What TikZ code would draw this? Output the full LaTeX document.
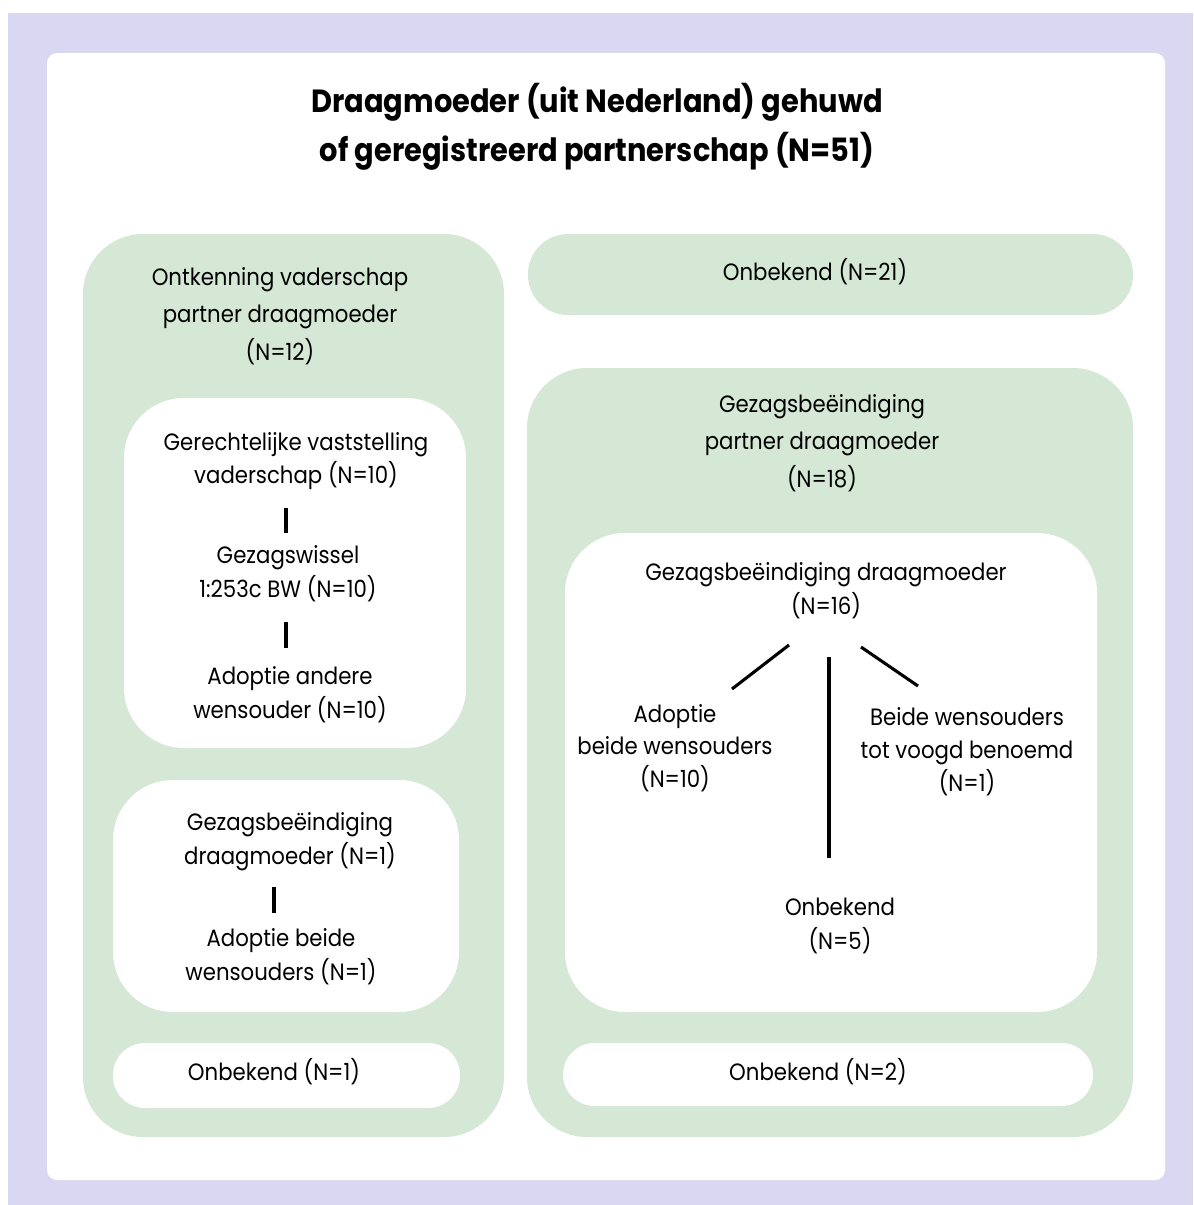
\documentclass[tikz,border=0pt]{standalone}
\usepackage{fontspec}
\setmainfont{Poppins}[FakeStretch=0.9]
\definecolor{lav}{HTML}{D9D7F1}
\definecolor{mint}{HTML}{D5E8D5}
\begin{document}
\begin{tikzpicture}[x=0.025cm,y=-0.025cm,
  txt/.style={align=center,inner sep=0pt,font=\fontsize{16.8}{24}\selectfont},
  txtw/.style={align=center,inner sep=0pt,font=\fontsize{16.8}{26.5}\selectfont},
  conn/.style={line width=2.2pt,black},
  greenbox/.style={fill=mint},
  whitebox/.style={fill=white}]
\useasboundingbox (0,0) rectangle (1193,1205);
\fill[white] (0,0) rectangle (1193,1205);
\fill[lav] (8,13) rectangle (1193,1205);
\fill[white,rounded corners=0.25cm] (47,53) rectangle (1165,1180);
% boxes
\fill[greenbox,rounded corners=1.5cm] (83,234) rectangle (504,1137);
\fill[whitebox,rounded corners=1.5cm] (124,398) rectangle (466,748);
\fill[whitebox,rounded corners=1.5cm] (113,780) rectangle (459,1012);
\fill[whitebox,rounded corners=0.8cm] (113,1043) rectangle (460,1108);
\fill[greenbox,rounded corners=1cm] (528,234) rectangle (1133,315);
\fill[greenbox,rounded corners=1.5cm] (527,368) rectangle (1133,1137);
\fill[whitebox,rounded corners=1.5cm] (565,533) rectangle (1097,1012);
\fill[whitebox,rounded corners=0.79cm] (563,1043) rectangle (1093,1106);
% title
\node (title) at (597,127) [align=center,inner sep=0pt,font=\fontsize{22.8}{35}\selectfont\bfseries]
  {Draagmoeder (uit Nederland) gehuwd\\of geregistreerd partnerschap (N=51)};
% left
\node[txtw] (lt) at (280,316) {Ontkenning vaderschap\\partner draagmoeder\\(N=12)};
\node[txt] (a1) at (296,461) {Gerechtelijke vaststelling\\vaderschap (N=10)};
\node[txt] (a2) at (288,574) {Gezagswissel\\1:253c BW (N=10)};
\node[txt] (a3) at (290,695) {Adoptie andere\\wensouder (N=10)};
\node[txt] (b1) at (290,842) {Gezagsbeëindiging\\draagmoeder (N=1)};
\node[txt] (b2) at (281,957) {Adoptie beide\\wensouders (N=1)};
\node[txt] (o1) at (274,1072) {Onbekend (N=1)};
% right
\node[txt] (o21) at (815,272) {Onbekend (N=21)};
\node[txtw] (rt) at (822,443) {Gezagsbeëindiging\\partner draagmoeder\\(N=18)};
\node[txt] (r0) at (826,591) {Gezagsbeëindiging draagmoeder\\(N=16)};
\node[align=center,inner sep=0pt,font=\fontsize{16.8}{23}\selectfont] (r1) at (675,748) {Adoptie\\beide wensouders\\(N=10)};
\node[align=center,inner sep=0pt,font=\fontsize{16.8}{23.5}\selectfont] (r2) at (967,752) {Beide wensouders\\tot voogd benoemd\\(N=1)};
\node[txt] (r3) at (840,926) {Onbekend\\(N=5)};
\node[txt] (o2) at (818,1072) {Onbekend (N=2)};
% connector ends
\coordinate (a1e) at (286,508); \coordinate (a2s) at (286,533);
\coordinate (a2e) at (286,622); \coordinate (a3s) at (286,648);
\coordinate (b1e) at (274,887); \coordinate (b2s) at (274,913);
\coordinate (r0l) at (789,645); \coordinate (r1s) at (732,689);
\coordinate (r0m) at (829,657); \coordinate (r3s) at (829,858);
\coordinate (r0r) at (861,647); \coordinate (r2s) at (918,686);
\draw[conn] (a1e) -- (a2s);
\draw[conn] (a2e) -- (a3s);
\draw[conn] (b1e) -- (b2s);
\draw[conn] (r0l) -- (r1s);
\draw[conn] (r0m) -- (r3s);
\draw[conn] (r0r) -- (r2s);
\end{tikzpicture}
\end{document}
